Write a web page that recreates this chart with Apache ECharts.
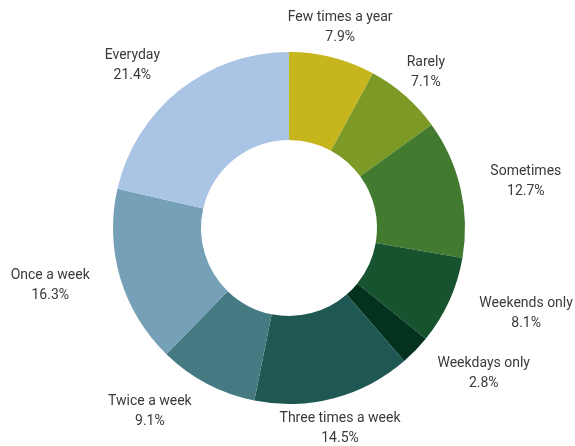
<!DOCTYPE html>
<html>
<head>
<meta charset="utf-8">
<script src="https://cdn.jsdelivr.net/npm/echarts@6/dist/echarts.min.js"></script>
<style>
  html, body { margin: 0; padding: 0; background: #ffffff; }
  #chart { width: 575px; height: 446px; }
</style>
</head>
<body>
<div id="chart"></div>
<script>
// Frequency categories and their shares (%)
const categories = ['Few times a year', 'Rarely', 'Sometimes', 'Weekends only', 'Weekdays only',
                    'Three times a week', 'Twice a week', 'Once a week', 'Everyday'];
const shares = [7.9, 7.1, 12.7, 8.1, 2.8, 14.5, 9.1, 16.3, 21.4];
const sliceColors = ['#c7b51e', '#7e9a26', '#427b30', '#17532f', '#03331f',
                     '#1f5753', '#467a82', '#75a0b7', '#aac4e5'];

// Label placement: anchor on a ring around the donut, then a small nudge per label
const CX = 289, CY = 228, R_IN = 88, R_OUT = 176, R_LABEL = 200;
const labelNudge = [[2, -7], [5, -5], [42, -1], [55, 3], [51, 6], [0, 7], [-46, 6], [-47, 1], [-32, -6]];

const total = shares.reduce((a, b) => a + b, 0);
const midAngles = [];
let acc = 0;
shares.forEach(v => { midAngles.push((acc + v / 2) / total * 2 * Math.PI); acc += v; });

const chart = echarts.init(document.getElementById('chart'), null, { renderer: 'canvas' });
chart.setOption({
  animation: false,
  backgroundColor: '#ffffff',
  series: [{
    type: 'pie',
    center: [CX, CY],
    radius: [R_IN, R_OUT],
    startAngle: 90,
    clockwise: true,
    avoidLabelOverlap: false,
    silent: true,
    itemStyle: { borderWidth: 0 },
    label: {
      show: true,
      position: 'outside',
      formatter: p => p.name + '\n' + p.value.toFixed(1) + '%',
      fontFamily: 'Roboto, "Noto Sans", sans-serif',
      fontSize: 14,
      lineHeight: 20,
      color: '#3a3a3a',
      align: 'center'
    },
    labelLine: { show: false },
    labelLayout: params => {
      const i = params.dataIndex;
      const a = midAngles[i];
      return {
        x: CX + R_LABEL * Math.sin(a) + labelNudge[i][0],
        y: CY - R_LABEL * Math.cos(a) + labelNudge[i][1],
        align: 'center',
        verticalAlign: 'middle'
      };
    },
    data: categories.map((name, i) => ({
      name,
      value: shares[i],
      itemStyle: { color: sliceColors[i] }
    }))
  }]
});
</script>
</body>
</html>
